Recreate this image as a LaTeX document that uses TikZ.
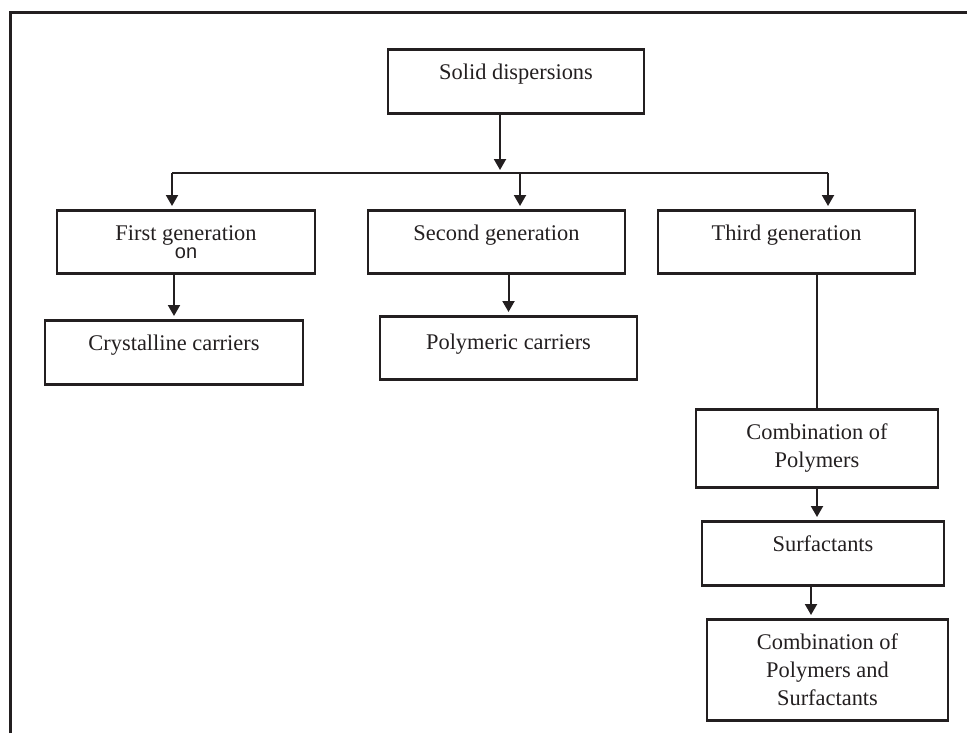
\documentclass[tikz,border=0pt]{standalone}
\usepackage{fontspec}
\setmainfont{Liberation Serif}
\setsansfont{Liberation Sans}
\usetikzlibrary{arrows.meta}
\definecolor{ink}{HTML}{231F20}

\begin{document}
\begin{tikzpicture}
	[x=0.5pt, y=-0.5pt,
	every node/.style={font=\fontsize{11.2}{14}\selectfont, text=ink},
	box/.style={draw=ink, line width=1.3pt, rectangle, anchor=north, align=center},
	onebox/.style={box, inner ysep=0pt, text height=15pt, text depth=#1},
	frame/.style={draw=ink, line width=1.5pt},
	link/.style={draw=ink, line width=1pt},
	arr/.style={link, -{Triangle[length=5.5pt, width=6pt]}, shorten >=1.5pt}]
	\useasboundingbox (0,0) rectangle (967,733);
	\draw[frame] (10,733) -- (10,13) -- (967,13);

	\node[onebox=17pt, minimum width=128pt] (sd) at (516,48) {Solid dispersions};
	\node[box, minimum width=129pt, minimum height=31.5pt] (g1) at (186,209)
		{First generation\\[-5pt]{\sffamily\fontsize{10}{12}\selectfont on}};
	\node[onebox=16.5pt, minimum width=128.5pt] (g2) at (496.5,209) {Second generation};
	\node[onebox=16.5pt, minimum width=128.5pt] (g3) at (786.5,209) {Third generation};
	\node[onebox=17pt, minimum width=129pt] (cc) at (174,319) {Crystalline carriers};
	\node[onebox=15pt, text height=16.5pt, minimum width=128.5pt] (pc) at (508.5,315) {Polymeric carriers};
	\node[box, minimum width=121pt, minimum height=39pt] (cp) at (817,408) {Combination of\\Polymers};
	\node[onebox=17pt, minimum width=121pt] (sf) at (823,520) {Surfactants};
	\node[box, minimum width=120.5pt, minimum height=50.5pt] (cps) at (827.5,618)
		{Combination of\\Polymers and\\Surfactants};

	\coordinate (bl) at (172,173);
	\coordinate (bm) at (520,173);
	\coordinate (br) at (828,173);
	\coordinate (sdout) at ([xshift=-8pt]sd.south);
	\coordinate (sfout) at ([xshift=-6pt]sf.south);

	\draw[link] (bl) -- (br);
	\draw[arr] (sdout) -- (sdout |- bl);
	\draw[arr] (bl) -- (bl |- g1.north);
	\draw[arr] (bm) -- (bm |- g2.north);
	\draw[arr] (br) -- (br |- g3.north);
	\draw[arr] (g1.south -| cc.north) -- (cc.north);
	\draw[arr] (g2.south -| pc.north) -- (pc.north);
	\draw[link] (g3.south -| cp.north) -- (cp.north);
	\draw[arr] (cp.south) -- (cp.south |- sf.north);
	\draw[arr] (sfout) -- (sfout |- cps.north);
\end{tikzpicture}
\end{document}
